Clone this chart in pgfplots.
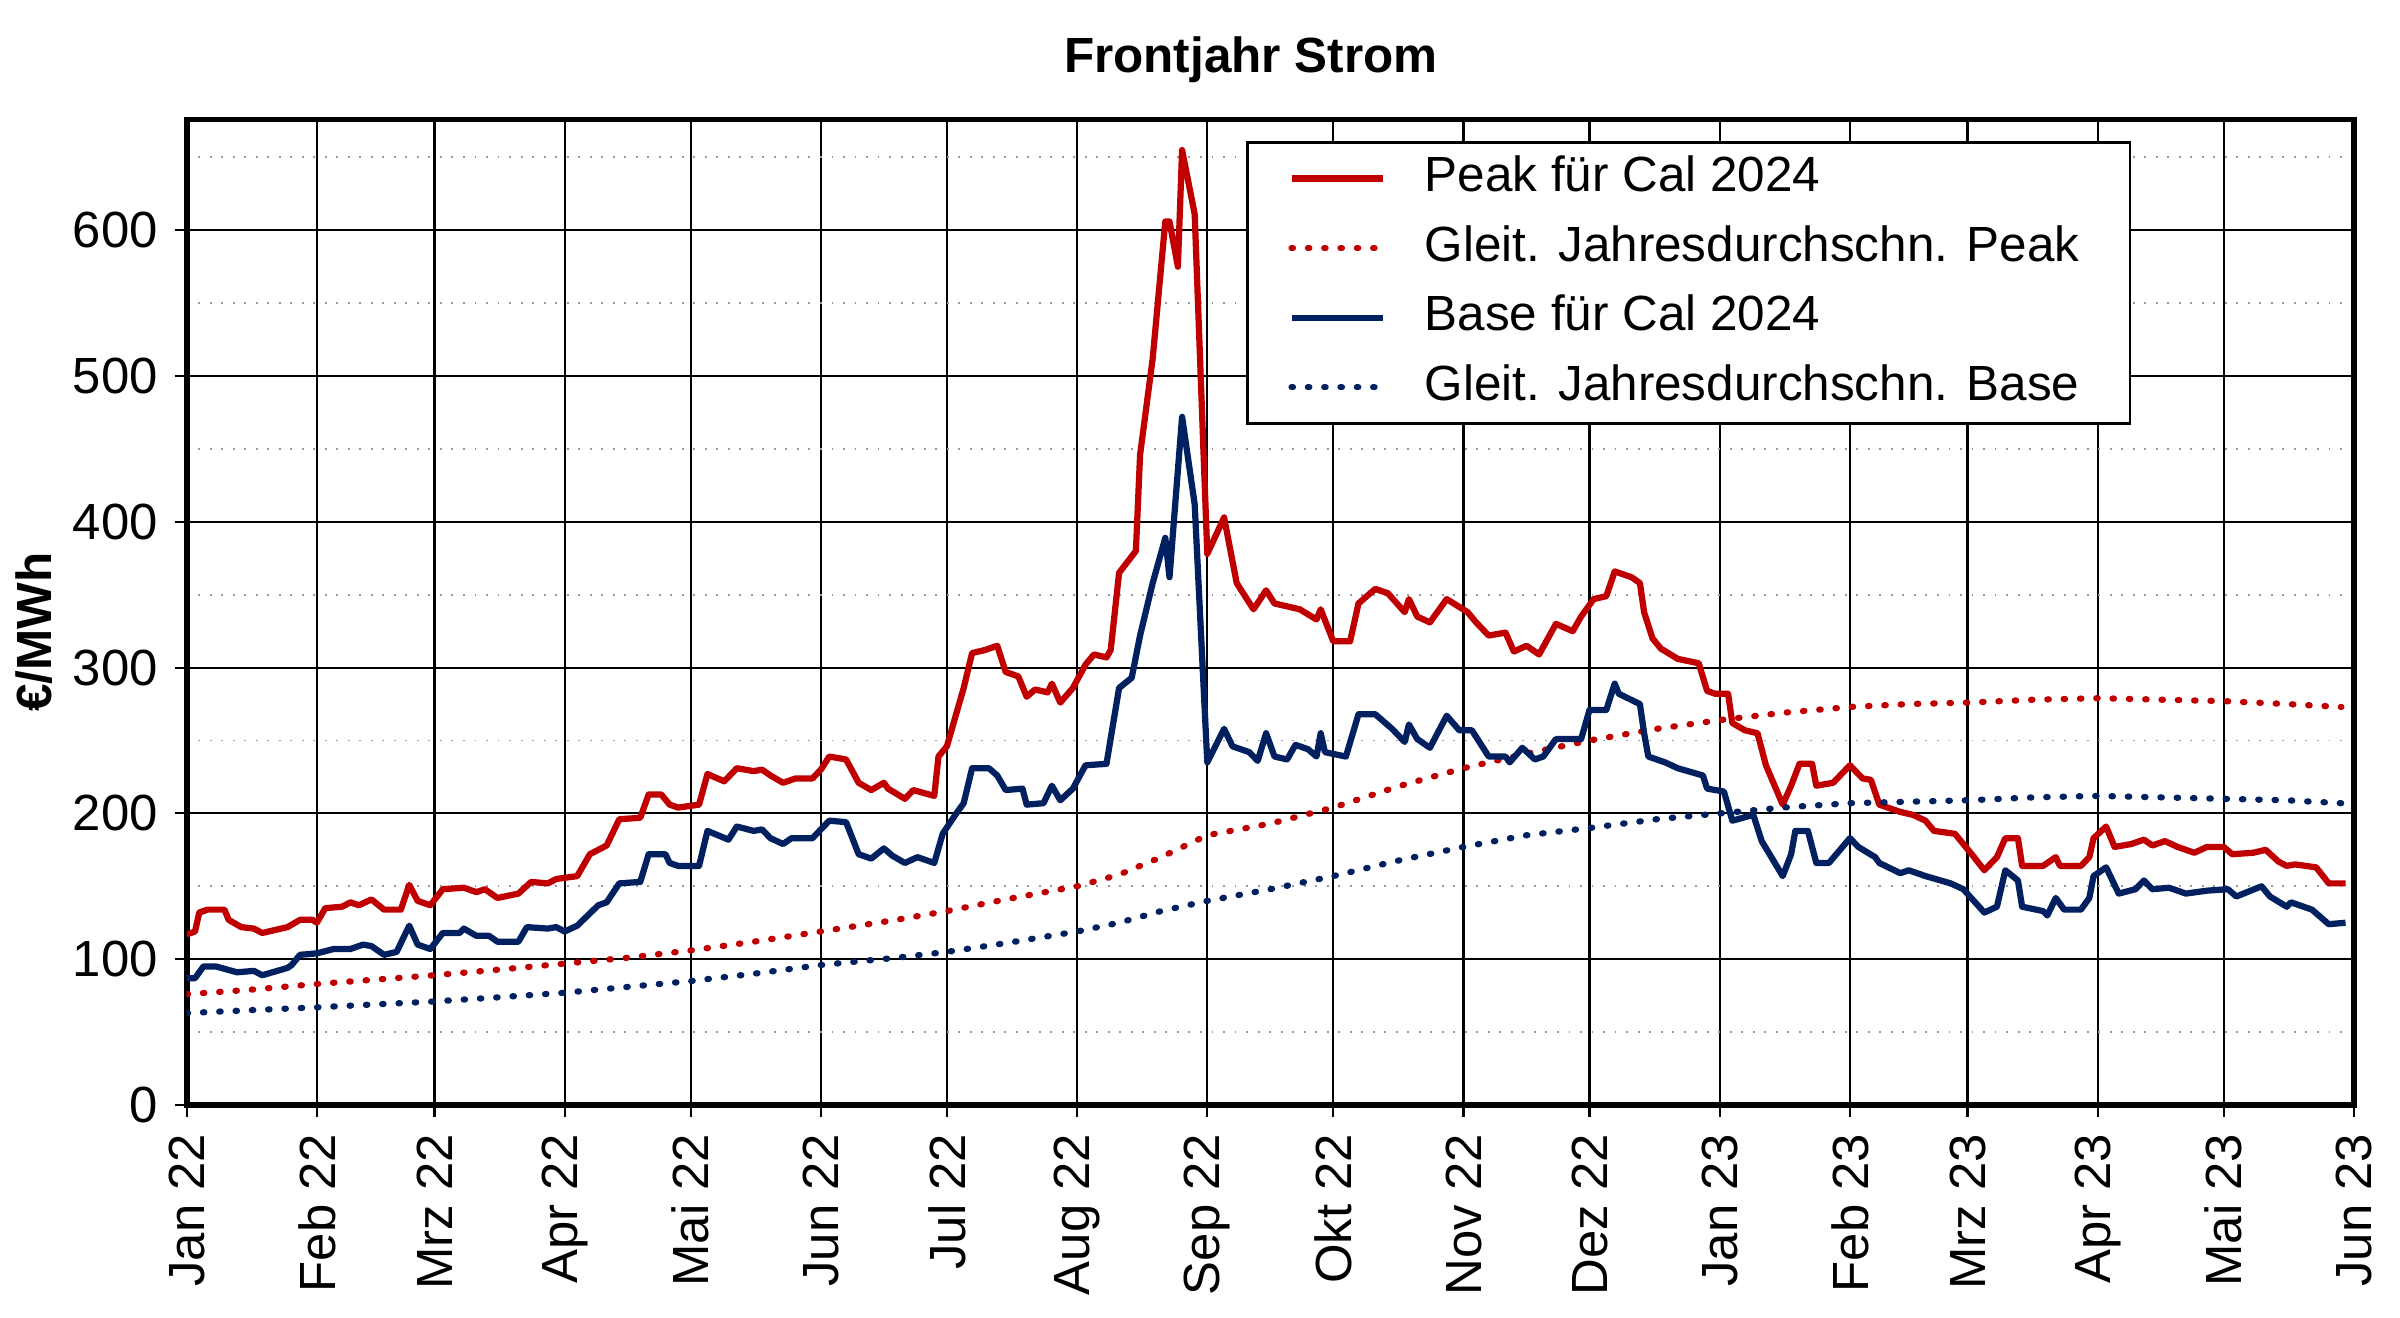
\documentclass[border=0pt]{standalone}
\usepackage{fontspec}
\setmainfont{Liberation Sans}
\usepackage{pgfplots}
\pgfplotsset{compat=1.18}
\definecolor{peakred}{RGB}{192,0,0}
\definecolor{baseblue}{RGB}{0,32,96}
\begin{document}
\begin{tikzpicture}
\path[use as bounding box] (-38.9pt,-44.3pt) rectangle (461.3pt,230.3pt);
\begin{axis}[
  at={(0,0)}, anchor=south west,
  scale only axis, width=451.7pt, height=205.4pt,
  xmin=0, xmax=516, ymin=0, ymax=676,
  xtick={0,31,59,90,120,151,181,212,243,273,304,334,365,396,424,455,485,516},
  xticklabels={Jan 22,Feb 22,Mrz 22,Apr 22,Mai 22,Jun 22,Jul 22,Aug 22,Sep 22,Okt 22,Nov 22,Dez 22,Jan 23,Feb 23,Mrz 23,Apr 23,Mai 23,Jun 23},
  ytick={0,100,...,600},
  minor ytick={50,150,...,650},
  grid=both,
  major grid style={black, line width=0.45pt},
  minor grid style={gray!80, dotted, line width=0.4pt},
  axis line style={black, line width=1.2pt},
  tick align=outside, xtick pos=bottom, ytick pos=left,
  major tick length=2.5pt, minor tick length=0pt,
  tick style={black, line width=0.45pt},
  ticklabel style={font=\fontsize{10.6}{12}\selectfont},
  xticklabel style={rotate=90, anchor=east},
  /pgf/number format/assume math mode=true,
  title={Frontjahr Strom},
  title style={font=\bfseries\fontsize{10.3}{12}\selectfont, at={(0.491,1)}, anchor=base, yshift=3.8pt},
  ylabel={€/MWh},
  ylabel style={font=\bfseries\fontsize{10.3}{12}\selectfont, at={(axis description cs:-0.0706,0.48)}, anchor=center},
  legend cell align=left,
  legend style={at={(0.489,0.978)}, anchor=north west, draw=black, line width=0.5pt, fill=white,
    font=\fontsize{10.3}{12}\selectfont, inner xsep=8.5pt, inner ysep=0.3pt, row sep=0pt,
    nodes={inner sep=2pt, text height=8pt, text depth=2.5pt}},
  legend image code/.code={\draw[#1] (0pt,0pt) -- (19.1pt,0pt); \path (25.1pt,0pt);},
]
\addplot[peakred, line width=1.3pt, line join=round] coordinates {
(0,117)(2,119)(3,132)(5,134)(9,134)(10,127)(13,122)(16,121)(18,118)(24,122)(27,127)(30,127)(31,125)
(33,135)(37,136)(39,139)(41,137)(44,141)(47,134)(51,134)(53,151)(55,140)(58,137)(61,148)(66,149)
(69,146)(71,148)(74,142)(79,145)(82,153)(86,152)(88,155)(93,157)(96,172)(100,178)(103,196)(108,197)
(110,213)(113,213)(115,206)(117,204)(122,206)(124,227)(128,222)(131,231)(135,229)(137,230)(139,226)
(142,221)(145,224)(149,224)(151,230)(153,239)(157,237)(160,221)(163,216)(166,221)(167,217)(171,210)
(173,216)(178,212)(179,239)(181,246)(185,286)(187,310)(190,312)(193,315)(195,297)(198,294)(200,280)
(202,285)(205,283)(206,289)(208,276)(211,286)(214,302)(216,309)(219,307)(220,312)(222,365)(226,380)
(227,446)(230,512)(233,606)(234,606)(236,575)(237,655)(240,611)(243,378)(247,403)(250,358)(254,340)
(257,353)(259,344)(265,340)(269,333)(270,340)(273,318)(277,318)(279,344)(283,354)(286,351)(290,338)
(291,347)(293,335)(296,331)(300,347)(305,338)(307,331)(310,322)(314,324)(316,311)(319,315)(322,309)
(326,330)(330,325)(332,335)(335,347)(338,349)(340,366)(344,362)(346,358)(347,338)(349,320)(351,313)
(355,306)(360,303)(362,284)(364,282)(367,282)(368,262)(371,257)(374,255)(376,233)(380,206)(382,219)
(384,234)(387,234)(388,219)(392,221)(396,233)(399,224)(401,223)(403,206)(408,201)(411,199)(414,195)
(416,188)(421,186)(425,172)(428,161)(431,170)(433,183)(436,183)(437,164)(442,164)(445,170)(446,164)
(451,164)(453,170)(454,183)(457,191)(459,177)(463,179)(466,182)(468,178)(471,181)(474,177)(478,173)
(481,177)(485,177)(487,172)(492,173)(495,175)(498,167)(500,164)(502,165)(507,163)(510,152)(514,152)
};
\addlegendentry{Peak für Cal 2024}
\addplot[peakred, line width=1.3pt, line cap=round, dash pattern=on 0.3pt off 3.1pt] coordinates {
(0,76)(15,79)(31,83)(45,86)(59,89)(75,93)(90,97)(105,101)(120,106)(135,112)(151,119)(169,127)(181,133)
(195,141)(212,150)(222,158)(232,170)(243,185)(258,193)(273,204)(289,219)(304,231)(319,241)(334,250)
(350,258)(365,264)(380,269)(396,273)(410,275)(424,276)(440,278)(455,279)(470,278)(485,277)(500,275)(513,273)
};
\addlegendentry{Gleit. Jahresdurchschn. Peak}
\addplot[baseblue, line width=1.3pt, line join=round] coordinates {
(0,87)(2,87)(4,95)(7,95)(12,91)(16,92)(18,89)(24,94)(25,96)(27,103)(31,104)(35,107)(39,107)(42,110)
(44,109)(47,103)(50,105)(53,123)(55,110)(58,107)(61,118)(65,118)(66,121)(69,116)(72,116)(74,112)
(79,112)(81,122)(86,121)(88,122)(90,119)(93,123)(98,137)(100,139)(103,152)(108,153)(110,172)(114,172)
(115,166)(117,164)(122,164)(124,188)(129,182)(131,191)(135,188)(137,189)(139,183)(142,179)(144,183)
(149,183)(153,195)(157,194)(160,172)(163,169)(166,176)(168,171)(171,166)(174,170)(178,166)(180,186)
(183,199)(185,207)(187,231)(191,231)(193,226)(195,216)(199,217)(200,206)(204,207)(206,219)(208,209)
(211,217)(214,233)(219,234)(222,286)(225,293)(227,322)(230,358)(233,389)(234,362)(237,472)(240,412)
(243,235)(247,258)(249,246)(253,242)(255,236)(257,255)(259,239)(262,237)(264,247)(267,244)(269,239)
(270,255)(271,242)(276,239)(279,268)(283,268)(287,258)(290,249)(291,261)(293,251)(296,245)(300,267)
(303,257)(306,257)(310,239)(314,239)(315,235)(318,245)(321,237)(323,239)(326,251)(332,251)(334,271)
(338,271)(340,289)(341,282)(346,275)(347,255)(348,239)(352,235)(355,231)(361,226)(362,217)(366,215)
(368,195)(373,199)(375,181)(380,157)(382,172)(383,188)(386,188)(388,166)(391,166)(396,183)(398,177)
(402,170)(403,166)(408,159)(410,161)(414,157)(420,152)(423,148)(428,132)(431,136)(433,161)(436,154)
(437,136)(442,133)(443,130)(445,142)(447,134)(451,134)(453,142)(454,157)(457,163)(460,145)(464,148)
(466,154)(468,148)(472,149)(476,145)(481,147)(486,148)(488,143)(494,150)(496,143)(500,136)(501,139)
(506,134)(510,124)(514,125)
};
\addlegendentry{Base für Cal 2024}
\addplot[baseblue, line width=1.3pt, line cap=round, dash pattern=on 0.3pt off 3.1pt] coordinates {
(0,63)(15,65)(31,67)(45,69)(59,71)(75,74)(90,77)(105,81)(120,85)(135,90)(151,96)(169,101)(181,105)
(195,111)(212,119)(222,125)(232,133)(243,140)(258,148)(273,157)(289,168)(304,177)(319,185)(334,190)
(350,196)(365,200)(380,204)(396,207)(410,208)(424,209)(440,211)(455,212)(470,211)(485,210)(500,209)(513,207)
};
\addlegendentry{Gleit. Jahresdurchschn. Base}
\end{axis}
\end{tikzpicture}
\end{document}
